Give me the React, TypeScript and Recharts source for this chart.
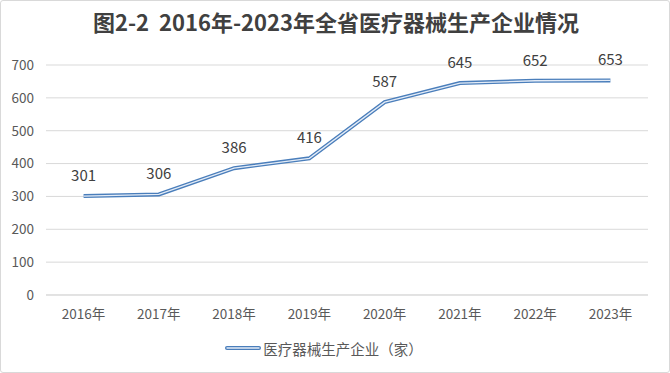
import React from 'react';
import { LineChart, Line, XAxis, YAxis, CartesianGrid, Legend, LabelList } from 'recharts';

const years = ['2016年', '2017年', '2018年', '2019年', '2020年', '2021年', '2022年', '2023年'];
const companies = [301, 306, 386, 416, 587, 645, 652, 653];
const yTicks = [0, 100, 200, 300, 400, 500, 600, 700];

const SERIES_NAME = '医疗器械生产企业（家）';
const FONT = '"Noto Sans CJK SC", "Noto Sans", sans-serif';

const chartData = years.map((year, i) => ({ year, value: companies[i] }));

const LegendContent = () => (
    <div style={{ height: 46, display: 'flex', alignItems: 'center', justifyContent: 'center', fontFamily: FONT, fontSize: 14.5, color: '#595959' }}>
        <svg width={36} height={8} style={{ marginRight: 2 }}>
            <line x1={2} y1={4} x2={34} y2={4} stroke="#4a7ebb" strokeWidth={4} strokeLinecap="round" />
            <line x1={2} y1={4} x2={34} y2={4} stroke="#e4ecf7" strokeWidth={1.3} strokeLinecap="round" />
        </svg>
        <span>{SERIES_NAME}</span>
    </div>
);

const App: React.FC = () => {
    return (
        <div style={{ position: 'absolute', left: 0, top: 0, width: 670, height: 373, background: '#fff', boxSizing: 'border-box', border: '1px solid #d9d9d9', borderRadius: 3 }}>
            <div style={{ position: 'absolute', left: 0, top: 4, width: 670, textAlign: 'center', fontFamily: FONT, fontWeight: 700, fontSize: 22, color: '#404040', lineHeight: '32px' }}>
                图2-2&nbsp;&nbsp;2016年-2023年全省医疗器械生产企业情况
            </div>
            <div style={{ position: 'absolute', left: -1, top: -1 }}>
                <LineChart width={670} height={373} data={chartData} margin={{ top: 65, right: 22, left: 0, bottom: 2 }}>
                    <CartesianGrid vertical={false} stroke="#d9d9d9" />
                    <XAxis
                        dataKey="year"
                        height={30}
                        padding={{ left: 37.6, right: 37.6 }}
                        tickLine={false}
                        axisLine={{ stroke: '#d9d9d9' }}
                        tick={{ fill: '#595959', fontSize: 13.5, fontFamily: FONT }}
                        tickMargin={8}
                    />
                    <YAxis
                        width={46}
                        domain={[0, 700]}
                        ticks={yTicks}
                        tickLine={false}
                        axisLine={false}
                        tick={{ fill: '#595959', fontSize: 13.5, fontFamily: FONT }}
                        tickMargin={6}
                    />
                    <Legend verticalAlign="bottom" content={<LegendContent />} />
                    <Line
                        type="linear"
                        dataKey="value"
                        name={SERIES_NAME}
                        stroke="#4a7ebb"
                        strokeWidth={4}
                        dot={false}
                        activeDot={false}
                        isAnimationActive={false}
                    >
                        <LabelList dataKey="value" position="top" offset={15} fill="#404040" fontSize={15} fontFamily={FONT} />
                    </Line>
                    <Line
                        type="linear"
                        dataKey="value"
                        stroke="#e4ecf7"
                        strokeWidth={1.3}
                        dot={false}
                        activeDot={false}
                        legendType="none"
                        isAnimationActive={false}
                    />
                </LineChart>
            </div>
        </div>
    );
};

export default App;
